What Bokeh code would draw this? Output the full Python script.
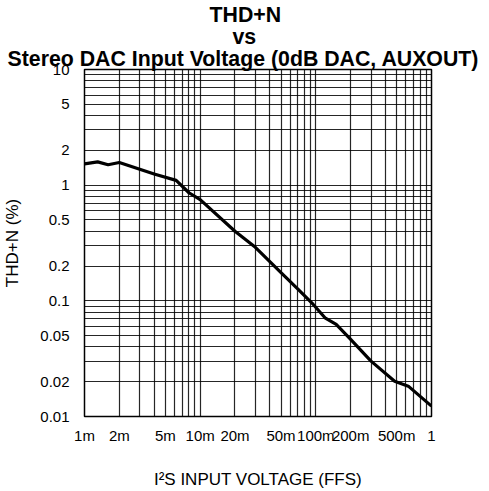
from bokeh.plotting import figure
from bokeh.models import FixedTicker, Title, ColumnDataSource
from bokeh.embed import file_html
from bokeh.resources import INLINE

# ---- data ----
voltage = [0.001, 0.0013, 0.0016, 0.002, 0.004, 0.0062, 0.008, 0.01, 0.02, 0.03,
           0.05, 0.07, 0.095, 0.12, 0.15, 0.2, 0.3, 0.48, 0.63, 1.0]
thdn = [1.53, 1.59, 1.50, 1.57, 1.25, 1.10, 0.86, 0.75, 0.40, 0.29,
        0.175, 0.126, 0.093, 0.0714, 0.0625, 0.0464, 0.0301, 0.0202, 0.0183, 0.0123]

x_tick_values = [0.001, 0.002, 0.005, 0.01, 0.02, 0.05, 0.1, 0.2, 0.5, 1.0]
x_tick_labels = ["1m", "2m", "5m", "10m", "20m", "50m", "100m", "200m", "500m", "1"]
y_tick_values = [0.01, 0.02, 0.05, 0.1, 0.2, 0.5, 1.0, 2.0, 5.0, 10.0]
y_tick_labels = ["0.01", "0.02", "0.05", "0.1", "0.2", "0.5", "1", "2", "5", "10"]

title_lines = ["THD+N", "vs", "Stereo DAC Input Voltage (0dB DAC, AUXOUT)"]

x_decades = [-3, -2, -1]
y_decades = [-2, -1, 0]
multipliers = list(range(1, 10))

x_grid = [float(f"{m}e{e}") for e in x_decades for m in multipliers] + [1.0]
y_grid = [float(f"{m}e{e}") for e in y_decades for m in multipliers] + [10.0]

FONT = "Liberation Sans"

p = figure(frame_width=347, frame_height=347,
           x_axis_type="log", y_axis_type="log",
           x_range=(0.001, 1.0), y_range=(0.01, 10.0),
           output_backend="svg", toolbar_location=None, title=None,
           min_border_left=80, min_border_right=54,
           min_border_top=67, min_border_bottom=69,
           background_fill_color="white", border_fill_color="white")

# title lines (nearest-to-frame first); left-aligned with pixel offsets from the
# frame's left edge so that the block is centred on the whole canvas
title_style = {
    "Stereo DAC Input Voltage (0dB DAC, AUXOUT)": dict(standoff=-2.5, offset=-77),
    "vs": dict(standoff=-7, offset=148),
    "THD+N": dict(standoff=0, offset=125),
}
for line in reversed(title_lines):
    st = title_style[line]
    t = Title(text=line, align="left", offset=st["offset"], text_font=FONT,
              text_font_style="bold", text_font_size="21.3px", text_color="black",
              standoff=st["standoff"], text_line_height=0.8)
    p.add_layout(t, "above")

p.outline_line_color = "black"
p.outline_line_width = 1.5

for ax, vals, labs in ((p.xaxis[0], x_tick_values, x_tick_labels),
                       (p.yaxis[0], y_tick_values, y_tick_labels)):
    ax.ticker = FixedTicker(ticks=vals)
    ax.major_label_overrides = {v: l for v, l in zip(vals, labs)}
    ax.major_tick_line_color = None
    ax.minor_tick_line_color = None
    ax.axis_line_color = None
    ax.major_label_text_font = FONT
    ax.major_label_text_font_size = "15px"
    ax.major_label_text_color = "black"
    ax.axis_label_text_font = FONT
    ax.axis_label_text_font_size = "17px"
    ax.axis_label_text_font_style = "normal"
    ax.axis_label_text_color = "black"
    ax.major_tick_out = 0
    ax.major_tick_in = 0

p.xaxis.axis_label = "I²S INPUT VOLTAGE (FFS)"
p.yaxis.axis_label = "THD+N (%)"
p.xaxis.major_label_standoff = 10
p.yaxis.major_label_standoff = 15
p.xaxis.axis_label_standoff = 23
p.yaxis.axis_label_standoff = 15

p.xgrid.ticker = FixedTicker(ticks=x_grid)
p.ygrid.ticker = FixedTicker(ticks=y_grid)
for g in (p.xgrid[0], p.ygrid[0]):
    g.grid_line_color = "black"
    g.grid_line_alpha = 0.85
    g.grid_line_width = 1.2

src = ColumnDataSource(data=dict(x=voltage, y=thdn))
p.line("x", "y", source=src, line_color="black", line_width=3.2)

open("out.html", "w").write(file_html(p, INLINE))
